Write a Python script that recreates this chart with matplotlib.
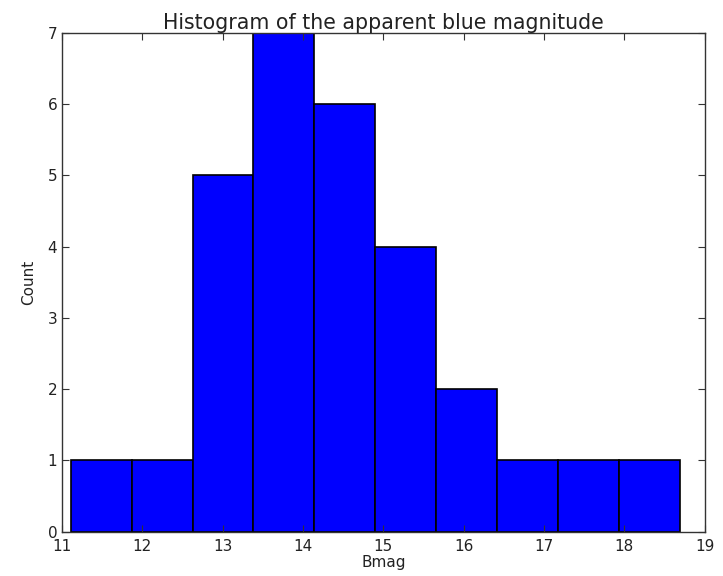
import matplotlib
matplotlib.use("Agg")
import matplotlib.pyplot as plt
import numpy as np

bin_edges = [11.108, 11.866, 12.624, 13.382, 14.140, 14.898, 15.656, 16.414, 17.172, 17.930, 18.688]
counts = [1, 1, 5, 7, 6, 4, 2, 1, 1, 1]
x_ticks = [11, 12, 13, 14, 15, 16, 17, 18, 19]
y_ticks = [0, 1, 2, 3, 4, 5, 6, 7]

plt.rcParams['font.family'] = ['DejaVu Sans']
fig = plt.figure(figsize=(7.23, 5.76), dpi=100, facecolor='white')
ax = fig.add_axes([0.0858, 0.0769, 0.889, 0.866])

edges = np.array(bin_edges)
ax.bar(edges[:-1], counts, width=np.diff(edges), align='edge',
       color='#0000ff', edgecolor='black', linewidth=1.2)

ax.set_xlim(11, 19)
ax.set_ylim(0, 7)
ax.set_xticks(x_ticks)
ax.set_yticks(y_ticks)
ax.tick_params(direction='in', top=True, right=True, length=5, labelsize=11, colors='#333333', labelcolor='#222222')
ax.tick_params(axis='x', pad=5)
for s in ax.spines.values():
    s.set_color('#333333')
    s.set_linewidth(1.0)
ax.set_title('Histogram of the apparent blue magnitude', fontsize=14.8, color='#222222', pad=3)
ax.set_xlabel('Bmag', fontsize=11, color='#222222', labelpad=1)
ax.set_ylabel('Count', fontsize=11, color='#222222', labelpad=8)

fig.savefig('out.png', dpi=100, facecolor='white')
